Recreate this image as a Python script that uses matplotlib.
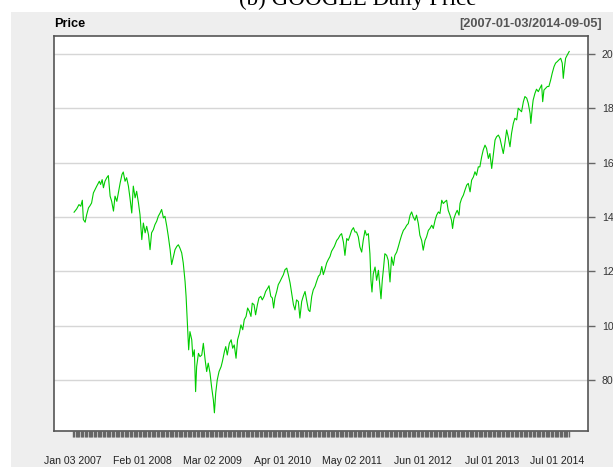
import numpy as np
import matplotlib
matplotlib.use('Agg')
import matplotlib.pyplot as plt
from matplotlib.patches import Rectangle

# trading-day index (0 = 2007-01-03) and closing price
day = [4, 14, 23, 30, 36, 40, 47, 53, 60, 66, 72, 79, 92, 102, 107, 113, 118, 124, 131, 137,
       144, 150, 157, 163, 170, 176, 183, 190, 195, 202, 208, 215, 221, 228, 234, 241, 247, 254, 260, 267,
       273, 280, 286, 293, 299, 305, 312, 318, 325, 331, 338, 344, 351, 357, 364, 370, 377, 383, 390, 396,
       403, 409, 415, 422, 428, 435, 439, 444, 449, 454, 461, 465, 471, 476, 480, 487, 493,
       500, 506, 513, 519, 525, 532, 538, 545, 549, 554, 560, 567, 575, 580, 588, 593, 599, 607, 614, 620,
       626, 633, 639, 646, 652, 659, 665, 672, 678, 685, 691, 696, 703, 709, 716, 722, 729, 735, 742, 748,
       756, 761, 768, 774, 779, 784, 791, 797, 804, 810, 817, 823, 830, 836, 843, 849, 856, 862, 868, 875,
       881, 888, 894, 901, 907, 914, 920, 927, 933, 940, 946, 953, 959, 966, 972, 978, 985, 991, 998, 1004, 1015,
       1024, 1030, 1037, 1043, 1050, 1056, 1063, 1069, 1076, 1082, 1089, 1095, 1101, 1108, 1114, 1121, 1127, 1134, 1140, 1147,
       1153, 1157, 1161, 1166, 1173, 1179, 1186, 1192, 1196, 1201, 1205, 1211, 1218, 1224, 1231, 1237, 1244, 1250, 1257, 1263,
       1270, 1276, 1283, 1289, 1296, 1302, 1309, 1315, 1321, 1328, 1334, 1341, 1347, 1354, 1360, 1367, 1373, 1380, 1386, 1393,
       1399, 1406, 1412, 1419, 1425, 1432, 1438, 1444, 1451, 1457, 1464, 1470, 1474, 1479, 1486, 1492, 1499, 1503, 1509, 1516,
       1522, 1529, 1535, 1542, 1548, 1555, 1561, 1567, 1574, 1580, 1587, 1593, 1600, 1606, 1613, 1619, 1626, 1632, 1639, 1645,
       1652, 1658, 1665, 1671, 1677, 1684, 1690, 1697, 1703, 1710, 1716, 1723, 1729, 1736, 1742, 1749, 1755, 1762, 1768, 1775,
       1778, 1784, 1787, 1794, 1800, 1807, 1813, 1820, 1824, 1829, 1835, 1842, 1848, 1855, 1861, 1868, 1874, 1881, 1887, 1894,
       1900, 1904, 1908, 1913, 1920, 1927]
price = [141.8, 143.0, 144.6, 144.0, 146.2, 139.1, 138.1, 140.9, 143.4, 144.2, 145.2, 148.9, 151.4, 153.2, 152.0, 153.8, 150.8, 153.2, 154.5, 155.3,
         147.7, 145.8, 142.2, 147.7, 145.8, 148.9, 152.6, 155.7, 156.6, 153.2, 154.5, 151.4, 147.1, 141.5, 151.4, 147.1, 149.5, 145.2, 140.9, 131.7,
         137.8, 134.2, 136.6, 133.5, 128.0, 134.2, 135.4, 137.2, 138.5, 140.3, 141.5, 142.8, 139.7, 140.3, 136.6, 132.9, 128.0, 122.5, 125.5, 128.0,
         129.2, 129.8, 128.6, 126.8, 123.1, 116.3, 110.8, 100.9, 91.1, 97.8, 94.8, 88.6, 91.1, 75.7, 84.9, 89.8, 88.6,
         89.2, 93.5, 87.4, 83.1, 86.2, 82.5, 77.5, 72.6, 67.9, 75.1, 80.0, 83.1, 84.9, 86.8, 90.5, 92.3, 89.2, 93.5, 94.8, 91.7,
         92.9, 88.0, 94.8, 97.2, 100.3, 98.5, 102.2, 103.4, 106.5, 105.2, 103.4, 108.3, 107.7, 104.0, 107.7, 110.2, 110.8, 109.5, 110.8, 112.6,
         113.8, 114.7, 110.8, 110.2, 106.5, 110.2, 112.6, 115.1, 116.3, 117.5, 118.8, 120.6, 121.2, 118.8, 115.7, 112.0, 107.7, 105.8, 109.5, 108.9,
         102.8, 108.9, 110.8, 112.6, 109.5, 105.8, 105.2, 110.8, 113.2, 114.5, 116.3, 118.2, 118.8, 121.8, 118.8, 120.6, 123.1, 124.3, 125.5, 127.4, 129.2,
         131.4, 132.1, 133.3, 133.9, 130.8, 125.9, 132.1, 131.4, 133.3, 135.1, 136.1, 134.5, 134.5, 132.7, 129.0, 127.1, 131.4, 135.1, 133.3, 133.9,
         126.5, 116.7, 112.4, 119.1, 121.6, 116.7, 120.4, 114.2, 109.9, 116.7, 120.4, 126.5, 125.9, 124.1, 116.1, 125.3, 122.2, 125.9, 127.1, 129.0,
         131.4, 133.3, 135.1, 135.8, 137.0, 137.6, 140.7, 141.9, 140.1, 138.8, 140.7, 137.6, 133.3, 131.4, 127.8, 131.4, 132.7, 135.1, 135.8, 137.0,
         135.8, 138.8, 140.7, 141.9, 141.3, 146.2, 145.0, 145.6, 146.2, 142.5, 140.7, 138.8, 135.8, 139.4, 141.3, 142.5, 140.7, 145.0, 146.8, 148.1,
         149.9, 151.8, 152.4, 149.3, 153.6, 154.8, 156.7, 155.4, 158.5, 158.5, 162.2, 164.7, 166.5, 165.3, 161.6, 163.4, 157.9, 162.8, 168.4, 169.6,
         170.2, 169.0, 165.9, 163.4, 167.1, 172.1, 169.6, 165.9, 170.8, 174.5, 176.4, 175.8, 180.1, 179.4, 178.8, 182.5, 184.4, 183.8, 181.9, 178.2,
         174.5, 180.7, 183.1, 185.6, 187.1, 186.2, 187.4, 188.7, 182.5, 186.8, 187.4, 188.1, 188.1, 190.5, 193.0, 195.4, 196.7, 197.3, 197.9, 198.5,
         196.7, 191.1, 194.8, 198.5, 199.8, 201.0]

xtick_pos = [0, 271, 541, 813, 1084, 1358, 1629, 1880]
xtick_lab = ['Jan 03 2007', 'Feb 01 2008', 'Mar 02 2009', 'Apr 01 2010',
             'May 02 2011', 'Jun 01 2012', 'Jul 01 2013', 'Jul 01 2014']
ytick_pos = [80, 100, 120, 140, 160, 180, 200]
ytick_lab = ['80', '100', '120', '140', '160', '180', '200']
n_days = 1928

plt.rcParams['font.family'] = 'Liberation Sans'

W, H = 613, 467
fig = plt.figure(figsize=(W / 100, H / 100), dpi=100, facecolor='white')
fig.patches.append(Rectangle((11 / W, 0), 1, 1 - 12 / H, transform=fig.transFigure,
                             facecolor='#EEEEEE', edgecolor='none', zorder=-10))

ax = fig.add_axes([54 / W, 1 - 431 / H, (588 - 54) / W, (431 - 36) / H])
ax.set_facecolor('white')
ax.plot(day, price, color='#00CC00', lw=0.8)
ax.set_xlim(-74, 2000)
ax.set_ylim(61.2, 206.7)

ax.yaxis.tick_right()
ax.set_yticks(ytick_pos)
ax.set_yticklabels(ytick_lab)
ax.grid(axis='y', color='#D6D6D6', lw=1)
ax.set_axisbelow(True)
ax.tick_params(axis='y', length=5, width=1, color='#666666', pad=5, labelsize=7.6, labelcolor='#333333')

ax.xaxis.remove_overlapping_locs = False
ax.set_xticks(xtick_pos)
ax.set_xticklabels(xtick_lab)
ax.set_xticks(np.arange(0, n_days, 5), minor=True)
ax.tick_params(axis='x', which='major', length=0, pad=18, labelsize=7.6, labelcolor='#222222')
ax.tick_params(axis='x', which='minor', length=4.0, width=1.0, color='#666666')
for s in ax.spines.values():
    s.set_color('#555555')
    s.set_linewidth(1.2)

fig.text(358 / W, 1 - 5 / H, '(b) GOOGLE Daily Price', family='Liberation Serif',
         size=16.6, ha='center', va='baseline')
fig.text(54 / W, 1 - 27 / H, 'Price', weight='bold', size=9.2, va='baseline')
fig.text(602 / W, 1 - 27 / H, '[2007-01-03/2014-09-05]', weight='bold', color='#555555',
         size=9.2, ha='right', va='baseline')

plt.savefig('out.png', dpi=100)
